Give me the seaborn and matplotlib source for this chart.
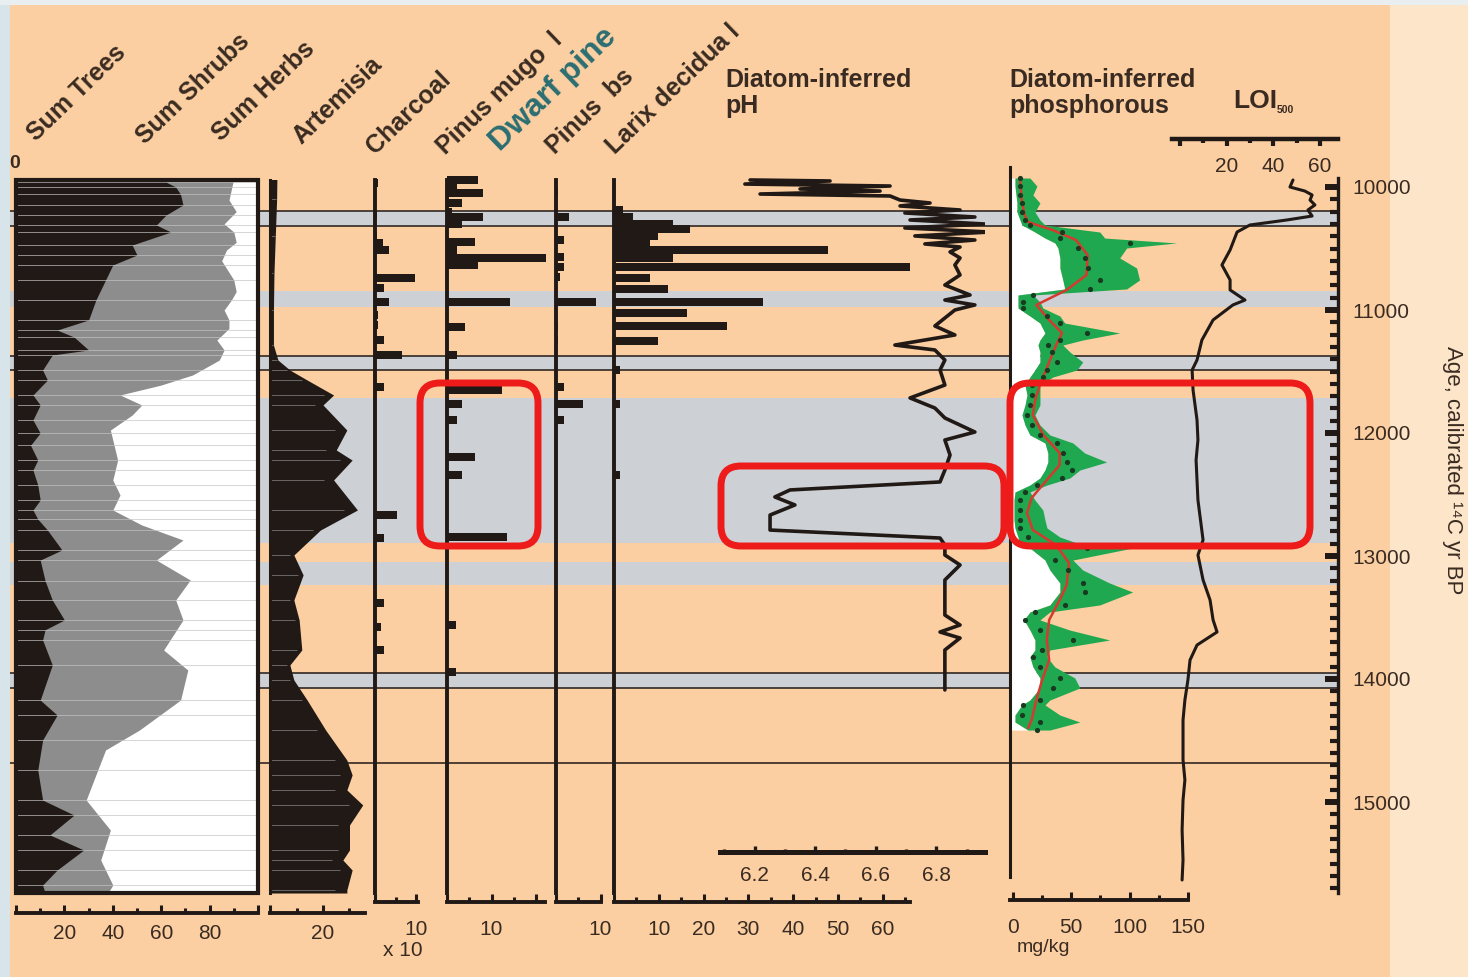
import matplotlib
matplotlib.use("Agg")
import matplotlib.pyplot as plt
from matplotlib.patches import Rectangle, FancyBboxPatch
import numpy as np
import pandas as pd
import seaborn as sns

sns.set_theme(style="white")
plt.rcParams["font.family"] = ["Liberation Sans", "DejaVu Sans"]

# ------------------------------------------------------------------ data
# Ages are calibrated 14C yr BP.
# Pollen sums (%): trees, and trees + shrubs (cumulative); the rest are herbs
tree_age = [9930, 9960, 10000, 10060, 10146, 10228, 10309, 10366, 10472, 10553,
            10634, 10756, 10919, 11081, 11163, 11220, 11325, 11366, 11488, 11569,
            11691, 11772, 11894, 12000, 12100, 12220, 12301, 12423, 12545, 12626,
            12700, 12789, 12951, 13033, 13200, 13358, 13520, 13600, 13683, 13886,
            14171, 14293, 14496, 14740, 14984, 15106, 15268, 15390, 15553, 15675,
            15740]
tree_pct = [64, 62, 66, 68, 69, 62, 58, 64, 48, 50,
            40, 37, 33, 30, 17, 24, 30, 15, 11, 13,
            7, 10, 7, 10, 6, 9, 7, 9, 10, 7,
            9, 13, 19, 10, 12, 15, 20, 12, 11, 15,
            10, 17, 11, 9, 11, 24, 14, 28, 17, 11,
            12]

woody_age = [9930, 10106, 10200, 10300, 10366, 10450, 10512, 10600, 10756, 10850,
             10919, 11000, 11081, 11150, 11244, 11325, 11407, 11528, 11610, 11691,
             11772, 11854, 11976, 12220, 12382, 12504, 12626, 12748, 12870, 13033,
             13195, 13358, 13520, 13764, 13927, 14171, 14415, 14577, 14780, 14984,
             15228, 15472, 15675, 15740]
woody_pct = [90, 88, 91, 86, 90, 91, 87, 85, 90, 91,
             89, 86, 88, 88, 83, 86, 84, 73, 60, 43,
             52, 48, 39, 42, 40, 43, 40, 52, 69, 58,
             72, 66, 69, 61, 71, 68, 51, 37, 33, 29,
             39, 35, 40, 38]

artemisia_age = [9930, 10100, 10400, 10700, 11000, 11285, 11407, 11488, 11569, 11691,
                 11772, 11976, 12138, 12220, 12382, 12626, 12789, 12992, 13154, 13358,
                 13520, 13764, 13886, 14008, 14171, 14415, 14659, 14780, 14902, 15024,
                 15187, 15390, 15472, 15553, 15715, 15740]
artemisia_pct = [2.6, 2.5, 2.0, 1.5, 1.3, 1.3, 3.0, 7.5, 14, 24,
                 20, 29, 25, 31, 24, 33, 19, 9, 12.5, 9,
                 11, 12, 7.5, 9, 14, 21, 29, 31, 29, 35,
                 30, 30, 27.5, 31, 29, 29]

charcoal_age = [9967, 10228, 10398, 10455, 10512, 10740, 10821, 10935, 11041, 11122,
                11244, 11366, 11626, 12667, 12854, 13382, 13577, 13764]
charcoal_val = [0.7, 0.6, 0.6, 2.0, 3.4, 9.8, 2.2, 3.4, 0.7, 0.7,
                2.2, 6.6, 2.2, 5.4, 2.2, 2.2, 1.5, 2.2]

pmugo_age = [9943, 9992, 10049, 10130, 10203, 10244, 10301, 10447, 10512, 10577,
             10634, 10935, 11138, 11366, 11650, 11764, 11894, 12195, 12341, 12846,
             13561, 13943]
pmugo_val = [7, 2.2, 8.1, 3.4, 1.1, 8.1, 3.4, 6.3, 2.2, 22.2,
             7, 14.2, 4, 2.2, 12.4, 3.4, 2.2, 6.3, 3.4, 13.5,
             2, 2]

pbs_age = [10049, 10244, 10431, 10569, 10650, 10732, 10935, 11130, 11244, 11626,
           11764, 11894]
pbs_val = [0.45, 2.9, 1.8, 1.8, 1.8, 0.9, 9.0, 0.45, 0.45, 1.8,
           6.1, 1.8]

larix_age = [10187, 10244, 10301, 10341, 10398, 10455, 10512, 10577, 10650, 10740,
             10829, 10935, 11024, 11130, 11252, 11488, 11764, 12341]
larix_val = [2, 4.2, 13.2, 17, 9.8, 8, 47.8, 13.2, 66, 8,
             12, 33.3, 16.3, 25.2, 9.8, 1.3, 1.3, 1.3]

# Diatom-inferred pH
ph_age = [9943, 9951, 9976, 9992, 10016, 10033, 10057, 10073, 10106, 10130,
          10154, 10187, 10211, 10244, 10268, 10301, 10333, 10366, 10398, 10431,
          10463, 10488, 10528, 10577, 10634, 10715, 10797, 10878, 10919, 10959,
          11000, 11065, 11130, 11203, 11285, 11325, 11407, 11488, 11610, 11715,
          11797, 11878, 11992, 12057, 12179, 12301, 12398, 12463, 12520, 12585,
          12667, 12789, 12854, 12911, 12992, 13073, 13195, 13358, 13480, 13561,
          13618, 13667, 13764, 13967, 14089]
ph_val = [6.185, 6.449, 6.168, 6.647, 6.350, 6.614, 6.218, 6.647, 6.680, 6.779,
          6.680, 6.878, 6.696, 6.927, 6.713, 6.960, 6.696, 6.977, 6.729, 6.927,
          6.762, 6.878, 6.845, 6.878, 6.861, 6.878, 6.828, 6.911, 6.828, 6.927,
          6.861, 6.828, 6.795, 6.861, 6.663, 6.795, 6.828, 6.812, 6.828, 6.713,
          6.795, 6.828, 6.927, 6.828, 6.845, 6.828, 6.812, 6.317, 6.267, 6.333,
          6.251, 6.251, 6.812, 6.828, 6.828, 6.878, 6.828, 6.828, 6.828, 6.878,
          6.812, 6.878, 6.828, 6.828, 6.828]

# Diatom-inferred total phosphorous (mg/kg): sample value with error range
phos_age = [9927, 9992, 10065, 10130, 10203, 10268, 10309, 10366, 10415, 10455,
            10496, 10577, 10659, 10756, 10829, 10878, 10935, 10984, 11049, 11106,
            11187, 11244, 11285, 11341, 11423, 11488, 11545, 11610, 11691, 11772,
            11854, 11935, 12016, 12081, 12163, 12236, 12301, 12366, 12423, 12480,
            12545, 12626, 12707, 12772, 12846, 12911, 12935, 13033, 13114, 13220,
            13293, 13398, 13455, 13520, 13602, 13683, 13764, 13821, 13902, 13992,
            14073, 14171, 14211, 14293, 14350, 14415]
phos_low = [1.7, 1.7, 2.6, 3.4, 3.4, 6.0, 7.7, 18.8, 27.4, 35.9,
            38.5, 40.2, 40.2, 42.7, 44.4, 4.3, 4.3, 4.3, 14.5, 23.1,
            27.4, 23.1, 21.4, 23.1, 23.1, 18.8, 14.5, 10.3, 12.0, 10.3,
            7.7, 10.3, 14.5, 27.4, 29.9, 29.9, 27.4, 23.1, 14.5, 1.7,
            0.9, 0.9, 0.9, 1.7, 4.3, 6.0, 14.5, 27.4, 31.6, 40.2,
            40.2, 31.6, 14.5, 9.4, 14.5, 18.8, 18.8, 14.5, 17.1, 23.1,
            23.1, 14.5, 7.7, 1.7, 1.7, 12.8]
phos_high = [14.5, 20.5, 17.1, 23.1, 18.8, 23.1, 27.4, 74.4, 78.6, 140.2,
             97.4, 91.5, 106.0, 108.5, 97.4, 17.1, 23.1, 25.6, 40.2, 44.4,
             91.5, 59.8, 42.7, 48.7, 59.8, 54.7, 34.2, 23.1, 23.1, 23.1,
             18.8, 23.1, 31.6, 51.3, 61.5, 80.3, 57.3, 48.7, 29.1, 14.5,
             18.8, 25.6, 27.4, 29.1, 40.2, 59.8, 102.6, 51.3, 59.8, 82.9,
             102.6, 74.4, 31.6, 23.1, 48.7, 82.9, 31.6, 29.1, 35.9, 53.0,
             57.3, 31.6, 27.4, 40.2, 57.3, 31.6]
phos_val = [6.0, 6.0, 6.0, 7.7, 7.7, 10.3, 14.5, 41.9, 40.2, 100.0,
            55.6, 61.5, 64.1, 74.4, 65.8, 17.1, 8.5, 8.5, 29.1, 40.2,
            63.2, 40.2, 29.9, 33.3, 37.6, 29.1, 25.6, 16.2, 16.2, 14.5,
            12.0, 16.2, 23.1, 37.6, 42.7, 46.2, 50.4, 41.9, 20.5, 10.3,
            6.0, 6.0, 6.0, 6.0, 12.8, 33.3, 63.2, 35.9, 47.0, 59.8,
            61.5, 44.4, 18.8, 10.3, 23.1, 51.3, 24.8, 17.1, 23.1, 40.2,
            34.2, 23.1, 8.5, 7.7, 23.1, 20.5]

phos_trend_age = [9927, 10106, 10228, 10285, 10350, 10431, 10553, 10715, 10837, 10959,
                  11081, 11187, 11285, 11447, 11610, 11732, 11854, 12016, 12163, 12260,
                  12382, 12528, 12650, 12789, 12911, 13057, 13236, 13358, 13520, 13683,
                  13846, 14008, 14171, 14333, 14398]
phos_trend_val = [6, 7.5, 10, 13, 34, 54, 64, 63, 46, 20,
                  31, 42, 37, 30, 23, 19, 17, 26, 40, 40,
                  29, 16, 12, 17, 37, 48, 46, 40, 31, 29,
                  31, 25, 20, 16, 13]

# Loss on ignition at 500 degC (%)
loi_age = [9943, 10000, 10033, 10065, 10106, 10146, 10187, 10236, 10268, 10309,
           10366, 10512, 10634, 10756, 10837, 10919, 10959, 11081, 11244, 11407,
           11488, 11650, 11894, 12057, 12220, 12545, 12870, 12992, 13195, 13358,
           13520, 13618, 13724, 13846, 14008, 14171, 14333, 14659, 14821, 14984,
           15228, 15472, 15634]
loi_val = [48.5, 47.2, 53.6, 56.7, 55.8, 57.9, 54.9, 56.7, 45.9, 30.0,
           24.5, 21.5, 18.0, 21.5, 21.5, 27.9, 22.7, 14.2, 9.4, 7.3,
           5.2, 5.6, 7.3, 7.7, 6.9, 7.7, 9.9, 7.7, 9.9, 12.9,
           14.2, 15.9, 7.3, 4.3, 3.4, 2.1, 1.3, 1.3, 2.1, 1.3,
           0.9, 1.3, 0.9]

# Zone shading and boundaries
band_spans = [(10195, 10317), (10846, 10976), (11374, 11488),
              (11715, 12894), (13049, 13236), (13951, 14073)]
zone_lines = [10195, 10317, 11374, 11488, 13951, 14073, 14683]

headers = ["Sum Trees", "Sum Shrubs", "Sum Herbs", "Artemisia", "Charcoal",
           "Pinus mugo  l", "Pinus  bs", "Larix decidua l"]
age_ticks = [10000, 11000, 12000, 13000, 14000, 15000]

# ------------------------------------------------------------------ style
PEACH = "#FBCFA1"
PEACH_LIGHT = "#FDE5C9"
BAND = "#CDD0D4"
INK = "#211916"
TXT = "#3a2b22"
GREY = "#8d8d8d"
GREEN = "#1FA84F"
TREND = "#D6392F"
DOT = "#183a20"
BOXRED = "#EE1B1B"
TEAL = "#2B6E72"

W, H = 1468, 977
fig = plt.figure(figsize=(W / 100, H / 100), dpi=100)
fig.patch.set_facecolor(PEACH)

PX_PER_YR = 0.123


def age_at(ypx):
    return 10000 + (ypx - 187) / PX_PER_YR


def panel(x0, x1, y0, y1, xlim, z=1):
    ax = fig.add_axes([x0 / W, 1 - y1 / H, (x1 - x0) / W, (y1 - y0) / H], zorder=z)
    ax.set_xlim(*xlim)
    ax.set_ylim(age_at(y1), age_at(y0))
    ax.patch.set_alpha(0)
    for s in ax.spines.values():
        s.set_visible(False)
    ax.set_yticks([])
    ax.set_xticks([])
    return ax


def scale(ax, pos, major, minor, labels, pad, lw=2.8, direction="in",
          mlen=6, mwid=2.2):
    sp = ax.spines["bottom"]
    sp.set_visible(True)
    sp.set_position(("axes", pos))
    sp.set_linewidth(lw)
    sp.set_color(INK)
    ax.set_xticks(major)
    ax.set_xticks(minor, minor=True)
    ax.set_xticklabels(labels)
    ax.tick_params(axis="x", which="major", bottom=True, direction=direction,
                   length=mlen, width=mwid, color=INK, pad=pad, labelsize=15,
                   labelcolor=TXT)
    ax.tick_params(axis="x", which="minor", bottom=True, direction=direction,
                   length=mlen * 0.55, width=mwid, color=INK)


def left_axis(ax, lw=2.8):
    sp = ax.spines["left"]
    sp.set_visible(True)
    sp.set_linewidth(lw)
    sp.set_color(INK)


def clear_labels(ax):
    ax.set_xlabel("")
    ax.set_ylabel("")
    if ax.get_legend() is not None:
        ax.get_legend().remove()


# background strips
bg = fig.add_axes([0, 0, 1, 1], zorder=-10)
bg.set_xlim(0, W)
bg.set_ylim(H, 0)
bg.axis("off")
bg.add_patch(Rectangle((1390, 0), W - 1390, H, color=PEACH_LIGHT, lw=0))
bg.add_patch(Rectangle((0, 0), 10, H, color="#D7E5EA", lw=0))
bg.add_patch(Rectangle((0, 0), W, 5, color="#E9EEF0", lw=0))

# zone bands and boundaries
zones = panel(10, 1338, 175, 893, (0, 1), z=-5)
for a, b in band_spans:
    zones.axhspan(a, b, color=BAND, lw=0)
for a in zone_lines:
    zones.axhline(a, color=INK, lw=1.1)

# ---- pollen sums
ax = panel(16, 258, 180, 893, (0, 100), z=2)
ax.patch.set_alpha(1)
ax.patch.set_facecolor("white")
ax.fill_betweenx(woody_age, 0, woody_pct, color=GREY, lw=0, zorder=1)
ax.fill_betweenx(tree_age, 0, tree_pct, color=INK, lw=0, zorder=2)
ax.hlines(tree_age, 0, 100, color="#c4c4c4", lw=0.6, alpha=0.8, zorder=3)
ax.add_patch(Rectangle((0, 0), 1, 1, transform=ax.transAxes, fill=False,
                       ec=INK, lw=3, clip_on=False, zorder=6))
scale(ax, -(913 - 893) / (893 - 180), [0, 20, 40, 60, 80, 100],
      list(range(10, 100, 20)), ["", "20", "40", "60", "80", ""], pad=8)

# ---- Artemisia
ax = panel(270, 365, 180, 893, (0, 95 / 2.65), z=2)
ax.fill_betweenx(artemisia_age, 0, artemisia_pct, color=INK, lw=0)
ax.hlines(artemisia_age, 0, np.array(artemisia_pct) * 0.85, color="#9a9a9a",
          lw=0.6, alpha=0.7)
left_axis(ax, 2.2)
scale(ax, -(913 - 893) / (893 - 180), [0, 20], [10, 30], ["", "20"], pad=8)

# ---- bar panels
bar_panels = [
    (375, 418, 4.1, charcoal_age, charcoal_val, [0, 10], [5], ["", "10"]),
    (447, 545, 4.45, pmugo_age, pmugo_val, [0, 10, 20], [5, 15], ["", "10", ""]),
    (556, 601, 4.45, pbs_age, pbs_val, [0, 10], [5], ["", "10"]),
    (614, 910, 4.48, larix_age, larix_val, list(range(0, 70, 10)),
     list(range(5, 70, 10)), ["", "10", "20", "30", "40", "50", "60"]),
]
for x0, x1, k, ages, vals, maj, mnr, labs in bar_panels:
    ax = panel(x0, x1, 180, 893, (0, (x1 - x0) / k), z=2)
    ax.barh(ages, vals, height=62, color=INK, lw=0, clip_on=False)
    left_axis(ax, 2.8)
    scale(ax, -(902 - 893) / (893 - 180), maj, mnr, labs, pad=13)

# ---- pH
ax = panel(720, 985, 175, 893, (6 + 26 / 303, 6 + 291 / 303), z=2)
sns.lineplot(x=ph_val, y=ph_age, sort=False, estimator=None, orient="y",
             color=INK, lw=2.6, ax=ax)
clear_labels(ax)
ax.set_xlim(6 + 26 / 303, 6 + 291 / 303)
ax.set_ylim(age_at(893), age_at(175))
scale(ax, (893 - 852) / (893 - 175), [6.2, 6.4, 6.6, 6.8],
      [6.1, 6.3, 6.5, 6.7, 6.9], ["6.2", "6.4", "6.6", "6.8"], pad=10,
      lw=3.6, mlen=4.5, mwid=2.4)

# ---- phosphorous
pxl = (-3 / 1.17, 175 / 1.17)
ax = panel(1010, 1188, 167, 877, pxl, z=2)
ax.fill_betweenx(phos_age, pxl[0], phos_low, color="white", lw=0, zorder=1)
ax.fill_betweenx(phos_age, phos_low, phos_high, color=GREEN, lw=0, zorder=2)
sns.scatterplot(x=phos_val, y=phos_age, color=DOT, s=14, linewidth=0,
                ax=ax, zorder=4)
sns.lineplot(x=phos_trend_val, y=phos_trend_age, sort=False, estimator=None,
             orient="y", color=TREND, lw=1.8, ax=ax, zorder=3)
clear_labels(ax)
ax.set_xlim(*pxl)
ax.set_ylim(age_at(877), age_at(167))
left_axis(ax, 2.2)
scale(ax, -(900 - 877) / (877 - 167), [0, 50, 100, 150], [25, 75, 125],
      ["0", "50", "100", "150"], pad=13)

# ---- LOI and age axis
lxl = (-8 / 2.33, 158 / 2.33)
ax = panel(1172, 1338, 178, 893, lxl, z=2)
sns.lineplot(x=loi_val, y=loi_age, sort=False, estimator=None, orient="y",
             color=INK, lw=2.2, ax=ax)
clear_labels(ax)
ax.set_xlim(*lxl)
ax.set_ylim(age_at(893), age_at(178))
ax.set_xticks([])
sp = ax.spines["right"]
sp.set_visible(True)
sp.set_linewidth(2.4)
sp.set_color(INK)
ax.yaxis.set_ticks_position("right")
ax.set_yticks(age_ticks)
ax.set_yticks([a for a in range(10100, 15800, 100) if a % 1000], minor=True)
ax.set_yticklabels([str(a) for a in age_ticks])
ax.tick_params(axis="y", which="major", right=True, left=False, direction="in",
               length=9.5, width=4.3, color=INK, labelright=True,
               labelleft=False, pad=10, labelsize=15, labelcolor=TXT)
ax.tick_params(axis="y", which="minor", right=True, left=False, direction="in",
               length=5.5, width=3, color=INK)

sc = panel(1172, 1338, 110, 139, lxl, z=2)
scale(sc, 0, [0, 20, 40, 60], [10, 30, 50],
      ["", "20", "40", "60"], pad=8, direction="out", lw=3.2, mlen=5, mwid=3)
sc.set_xlim(*lxl)

# ------------------------------------------------------------------ text layer
ov = fig.add_axes([0, 0, 1, 1], zorder=20)
ov.set_xlim(0, W)
ov.set_ylim(H, 0)
ov.axis("off")
ov.patch.set_alpha(0)

header_xy = [(36, 142), (145, 145), (221, 142), (301, 145), (375, 155),
             (446, 155), (555, 155), (615, 155)]
for t, (x, y) in zip(headers, header_xy):
    ov.text(x, y, t, rotation=44, rotation_mode="anchor", ha="left",
            va="baseline", fontsize=18, fontweight="bold", color=TXT)
ov.text(500, 152, "Dwarf pine", rotation=44, rotation_mode="anchor", ha="left",
        va="baseline", fontsize=23, fontweight="bold", color=TEAL)

ov.text(725, 87, "Diatom-inferred", fontsize=18, fontweight="bold", color=TXT,
        va="baseline")
ov.text(725, 113, "pH", fontsize=18, fontweight="bold", color=TXT, va="baseline")
ov.text(1009, 87, "Diatom-inferred", fontsize=18, fontweight="bold", color=TXT,
        va="baseline")
ov.text(1009, 113, "phosphorous", fontsize=18, fontweight="bold", color=TXT,
        va="baseline")
ov.text(1233, 108, "LOI", fontsize=19, fontweight="bold", color=TXT,
        va="baseline")
ov.text(1277, 113, "500", fontsize=7.5, fontweight="bold", color=TXT,
        va="baseline")

ov.text(403, 950, "x 10", fontsize=15, color=TXT, ha="center", va="center")
ov.text(1043, 947, "mg/kg", fontsize=14, color=TXT, ha="center", va="center")
ov.text(15, 163, "0", fontsize=14, fontweight="bold", color=TXT, ha="center",
        va="center")
ov.text(1452, 470, "Age, calibrated \u00b9\u2074C yr BP", rotation=-90,
        fontsize=16, color=TXT, ha="center", va="center")

# highlight boxes
for x0, y0, x1, y1 in [(420, 383, 538, 546), (721, 466, 1004, 546),
                       (1010, 383, 1310, 546)]:
    ov.add_patch(FancyBboxPatch((x0, y0), x1 - x0, y1 - y0,
                                boxstyle="round,pad=0,rounding_size=20",
                                fill=False, ec=BOXRED, lw=5))

fig.savefig("out.png", dpi=100, facecolor=fig.get_facecolor())
